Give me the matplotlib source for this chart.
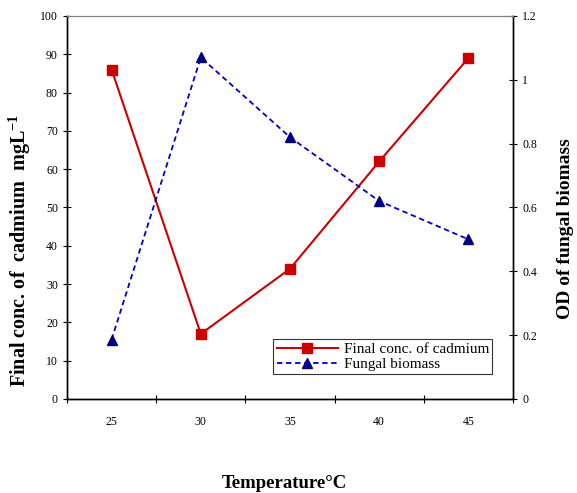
import numpy as np
import matplotlib.pyplot as plt
from matplotlib.ticker import FixedLocator, NullFormatter

temps = ["25", "30", "35", "40", "45"]
cadmium = [86, 17, 34, 62, 89]
biomass = [0.186, 1.07, 0.82, 0.62, 0.50]

plt.rcParams["font.family"] = ["Liberation Serif", "DejaVu Serif"]
plt.rcParams["mathtext.default"] = "regular"

fig = plt.figure(figsize=(5.77, 4.93), dpi=100)
ax = fig.add_axes([0.1161, 0.1907, 0.773, 0.777])
ax2 = ax.twinx()

x = np.arange(len(temps))
l1, = ax.plot(x, cadmium, color="#CC0000", lw=1.5, marker="s", ms=6.5,
              mfc="#CC0000", mec="#CC0000", label="Final conc. of cadmium")
l2, = ax2.plot(x, biomass, color="#0000CC", lw=1.3, ls=(0, (3, 2)), marker="^", ms=7,
               mfc="#000080", mec="#000080", label="Fungal biomass")

ax.set_xlim(-0.5, len(temps) - 0.5)
ax.set_ylim(0, 100)
ax2.set_ylim(0, 1.2)
ax.set_yticks(np.arange(0, 101, 10))
ax2.set_yticks([0, 0.2, 0.4, 0.6, 0.8, 1.0, 1.2])
ax2.set_yticklabels(["0", "0.2", "0.4", "0.6", "0.8", "1", "1.2"])

ax.set_xticks(x)
ax.set_xticklabels(temps)
ax.tick_params(axis="x", which="major", length=0, pad=12, labelsize=8.5)
ax.xaxis.set_minor_locator(FixedLocator(np.arange(-0.5, len(temps), 1.0)))
ax.xaxis.set_minor_formatter(NullFormatter())
ax.tick_params(axis="x", which="minor", direction="inout", length=6, width=0.8)
ax.tick_params(axis="y", direction="inout", length=6, width=0.8, labelsize=8.5)
ax2.tick_params(axis="y", direction="inout", length=6, width=0.8, labelsize=8.5)

for a in (ax, ax2):
    a.spines["top"].set_color("#808080")
    a.spines["left"].set_linewidth(1.0)
    a.spines["bottom"].set_linewidth(1.0)
    a.spines["right"].set_linewidth(1.0)

fig.text(20 / 577, 0.493, "Final conc. of  cadmium  mgL$^{-1}$", rotation=90,
         ha="center", va="center", fontsize=14.5, fontweight="bold")
fig.text(565 / 577, 0.537, "OD of fungal biomass", rotation=90,
         ha="center", va="center", fontsize=14, fontweight="bold")
fig.text(284 / 577, 0.02, "Temperature°C", ha="center", va="center", fontsize=13.5,
         fontweight="bold")

leg = ax.legend(handles=[l1, l2], loc="lower left", bbox_to_anchor=(0.463, 0.064),
                fontsize=11, frameon=True, fancybox=False, edgecolor="black",
                borderpad=0.2, handlelength=4.0, labelspacing=0.1, borderaxespad=0,
                handletextpad=0.4)
leg.get_frame().set_linewidth(0.8)

fig.savefig("out.png", dpi=100)
